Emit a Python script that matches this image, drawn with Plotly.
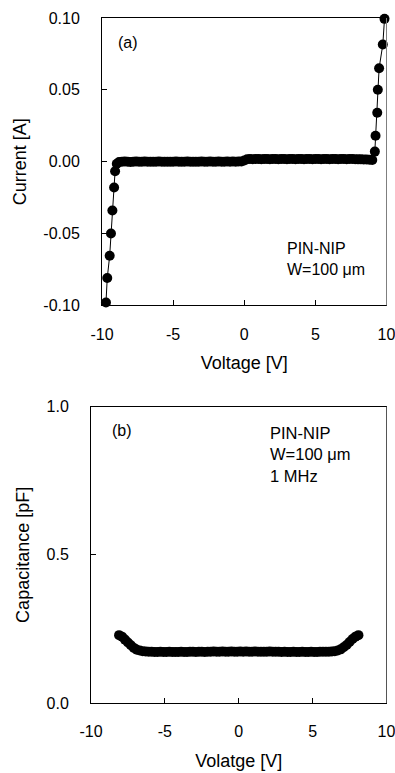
import plotly.graph_objects as go

# ---------------- data ----------------
x_ticks = [-10, -5, 0, 5, 10]
x_tick_labels = ["-10", "-5", "0", "5", "10"]
iv_y_ticks = [-0.10, -0.05, 0.00, 0.05, 0.10]
iv_y_tick_labels = ["-0.10", "-0.05", "0.00", "0.05", "0.10"]
cv_y_ticks = [0.0, 0.5, 1.0]
cv_y_tick_labels = ["0.0", "0.5", "1.0"]

iv_voltage = [
    -9.72, -9.63, -9.46, -9.37, -9.27, -9.15, -9.08, -8.96,
    -8.8, -8.6, -8.4, -8.2, -8.0, -7.8, -7.6, -7.4, -7.2, -7.0,
    -6.8, -6.6, -6.4, -6.2, -6.0, -5.8, -5.6, -5.4, -5.2, -5.0,
    -4.8, -4.6, -4.4, -4.2, -4.0, -3.8, -3.6, -3.4, -3.2, -3.0,
    -2.8, -2.6, -2.4, -2.2, -2.0, -1.8, -1.6, -1.4, -1.2, -1.0,
    -0.8, -0.6, -0.4, -0.2, 0.0,
    0.2, 0.4, 0.6, 0.8, 1.0, 1.2, 1.4, 1.6, 1.8, 2.0,
    2.2, 2.4, 2.6, 2.8, 3.0, 3.2, 3.4, 3.6, 3.8, 4.0,
    4.2, 4.4, 4.6, 4.8, 5.0, 5.2, 5.4, 5.6, 5.8, 6.0,
    6.2, 6.4, 6.6, 6.8, 7.0, 7.2, 7.4, 7.6, 7.8, 8.0,
    8.2, 8.4, 8.6, 8.8, 9.0,
    9.18, 9.23, 9.35, 9.39, 9.48, 9.74, 9.86,
]
iv_current = [
    -0.098, -0.081, -0.0655, -0.050, -0.034, -0.018, -0.0067, -0.0015,
    -0.0003, 0.0000, 0.0001, 0.0000, -0.0002, 0.0000, 0.0001, 0.0000, 0.0000, 0.0001,
    0.0000, -0.0001, 0.0000, 0.0000, 0.0001, 0.0000, 0.0000, -0.0001, 0.0000, 0.0000,
    0.0001, 0.0000, 0.0000, 0.0000, 0.0001, 0.0000, -0.0001, 0.0000, 0.0000, 0.0001,
    0.0000, 0.0000, 0.0001, 0.0000, 0.0000, 0.0001, 0.0000, 0.0000, 0.0001, 0.0000,
    0.0001, 0.0000, 0.0001, 0.0001, 0.0008,
    0.0017, 0.0018, 0.0017, 0.0018, 0.0018, 0.0017, 0.0018, 0.0018, 0.0017, 0.0018,
    0.0018, 0.0017, 0.0018, 0.0018, 0.0017, 0.0018, 0.0018, 0.0017, 0.0018, 0.0018,
    0.0017, 0.0018, 0.0018, 0.0017, 0.0018, 0.0018, 0.0017, 0.0018, 0.0018, 0.0017,
    0.0018, 0.0018, 0.0017, 0.0018, 0.0018, 0.0017, 0.0018, 0.0018, 0.0017, 0.0016,
    0.0016, 0.0015, 0.0015, 0.0014, 0.0012,
    0.007, 0.018, 0.034, 0.050, 0.065, 0.0815, 0.0994,
]

cv_voltage = [
    -8.1, -7.9, -7.7, -7.5, -7.3, -7.1, -6.9, -6.7, -6.5, -6.3,
    -6.1, -5.9, -5.7, -5.5, -5.3, -5.1, -4.9, -4.7, -4.5, -4.3,
    -4.1, -3.9, -3.7, -3.5, -3.3, -3.1, -2.9, -2.7, -2.5, -2.3,
    -2.1, -1.9, -1.7, -1.5, -1.3, -1.1, -0.9, -0.7, -0.5, -0.3,
    -0.1, 0.1, 0.3, 0.5, 0.7, 0.9, 1.1, 1.3, 1.5, 1.7,
    1.9, 2.1, 2.3, 2.5, 2.7, 2.9, 3.1, 3.3, 3.5, 3.7,
    3.9, 4.1, 4.3, 4.5, 4.7, 4.9, 5.1, 5.3, 5.5, 5.7,
    5.9, 6.1, 6.3, 6.5, 6.7, 6.9, 7.1, 7.3, 7.5, 7.7,
    7.9, 8.1,
]
cv_capacitance = [
    0.229, 0.224, 0.214, 0.204, 0.195, 0.186, 0.180, 0.177, 0.175, 0.174,
    0.173, 0.173, 0.172, 0.172, 0.173, 0.172, 0.172, 0.173, 0.172, 0.172,
    0.172, 0.173, 0.172, 0.172, 0.173, 0.173, 0.172, 0.173, 0.173, 0.172,
    0.173, 0.173, 0.174, 0.173, 0.173, 0.174, 0.173, 0.173, 0.174, 0.173,
    0.173, 0.174, 0.173, 0.174, 0.173, 0.173, 0.174, 0.173, 0.173, 0.173,
    0.173, 0.174, 0.173, 0.173, 0.173, 0.172, 0.173, 0.172, 0.172, 0.173,
    0.172, 0.172, 0.173, 0.172, 0.172, 0.173, 0.172, 0.172, 0.173, 0.173,
    0.173, 0.173, 0.174, 0.175, 0.177, 0.181, 0.188, 0.196, 0.206, 0.216,
    0.224, 0.229,
]

# ---------------- figure ----------------
W, H = 395, 773
FONT = "Liberation Sans, Arial, sans-serif"

def px_x(p):
    return p / W

def px_y(p):
    return 1 - p / H

fig = go.Figure()
fig.add_trace(go.Scatter(
    x=iv_voltage, y=iv_current, mode="lines+markers",
    line=dict(color="black", width=1),
    marker=dict(color="black", size=10),
    cliponaxis=False, showlegend=False, xaxis="x", yaxis="y",
))
fig.add_trace(go.Scatter(
    x=cv_voltage, y=cv_capacitance, mode="lines+markers",
    line=dict(color="black", width=1),
    marker=dict(color="black", size=10),
    cliponaxis=False, showlegend=False, xaxis="x2", yaxis="y2",
))

tick_font = dict(family=FONT, size=16, color="black")
title_font = dict(family=FONT, size=18, color="black")

common_x = dict(
    range=[-10, 10], tickmode="array", tickvals=x_ticks, ticktext=x_tick_labels,
    ticks="inside", ticklen=5, tickcolor="black", tickwidth=1,
    showline=True, linecolor="black", linewidth=1, mirror=True,
    showgrid=False, zeroline=False, tickfont=tick_font,
    ticklabelstandoff=14, automargin=False, ticklabeloverflow="allow",
)
common_y = dict(
    tickmode="array", ticks="inside", ticklen=5, tickcolor="black", tickwidth=1,
    showline=True, linecolor="black", linewidth=1, mirror=False,
    showgrid=False, zeroline=False, tickfont=tick_font,
    ticklabelstandoff=18, automargin=False, ticklabeloverflow="allow",
)

fig.update_layout(
    width=W, height=H,
    margin=dict(l=0, r=0, t=0, b=0),
    paper_bgcolor="white", plot_bgcolor="white",
    font=dict(family=FONT, color="black"),
    xaxis=dict(**common_x, domain=[px_x(102), px_x(386.5)], anchor="y",
               title=dict(text="Voltage [V]", font=title_font, standoff=14)),
    yaxis=dict(**common_y, domain=[px_y(305.3), px_y(18)], anchor="x",
               range=[-0.10, 0.10], tickvals=iv_y_ticks, ticktext=iv_y_tick_labels,
               title=dict(text="Current [A]", font=title_font, standoff=12)),
    xaxis2=dict(**common_x, domain=[px_x(91), px_x(386.5)], anchor="y2",
                title=dict(text="Volatge [V]", font=title_font, standoff=15)),
    yaxis2=dict(**common_y, domain=[px_y(703), px_y(406.7)], anchor="x2",
                range=[0.0, 1.0], tickvals=cv_y_ticks, ticktext=cv_y_tick_labels,
                title=dict(text="Capacitance [pF]", font=title_font, standoff=12)),
    shapes=[
        dict(type="line", xref="x domain", yref="y domain", x0=1, x1=1, y0=0, y1=1,
             line=dict(color="#7f7f7f", width=1)),
        dict(type="line", xref="x2 domain", yref="y2 domain", x0=1, x1=1, y0=0, y1=1,
             line=dict(color="#555555", width=1)),
    ],
    annotations=[
        dict(text="(a)", xref="paper", yref="paper", x=px_x(116), y=px_y(42),
             xanchor="left", yanchor="middle", showarrow=False,
             font=dict(family=FONT, size=16, color="black")),
        dict(text="PIN-NIP<br>W=100 μm", xref="paper", yref="paper",
             x=px_x(285), y=px_y(238), xanchor="left", yanchor="top", align="left",
             showarrow=False, font=dict(family=FONT, size=16, color="black")),
        dict(text="(b)", xref="paper", yref="paper", x=px_x(110), y=px_y(430),
             xanchor="left", yanchor="middle", showarrow=False,
             font=dict(family=FONT, size=16, color="black")),
        dict(text="PIN-NIP<br>W=100 μm<br>1 MHz", xref="paper", yref="paper",
             x=px_x(268), y=px_y(422), xanchor="left", yanchor="top", align="left",
             showarrow=False, font=dict(family=FONT, size=16.5, color="black")),
    ],
)

fig.write_html(
    "out.html",
    config={"displayModeBar": False, "staticPlot": True},
    post_script="document.body.style.margin='0';document.body.style.overflow='hidden';",
)
